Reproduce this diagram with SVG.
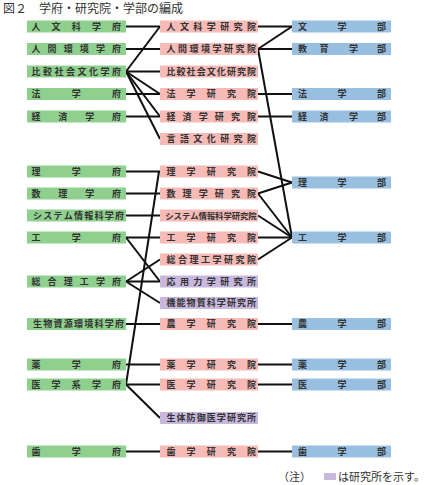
<svg xmlns="http://www.w3.org/2000/svg" width="428" height="485" viewBox="0 0 428 485">
<style>
.g{fill:#8FD08F}.p{fill:#F6BAB7}.b{fill:#98BFE0}.l{fill:#C8B8DE}
.t{font-family:"Noto Sans CJK JP","Noto Sans CJK SC",sans-serif;font-size:9px;font-weight:bold;fill:#333;text-anchor:middle}
.t11{font-size:8.4px}
.ttl{font-family:"Noto Sans CJK JP","Noto Sans CJK SC",sans-serif;font-size:12px;fill:#333}
.lg{font-family:"Noto Sans CJK JP","Noto Sans CJK SC",sans-serif;font-size:11px;fill:#333}
#connectors line{stroke:#111;stroke-width:2;fill:none}
</style>
<rect width="428" height="485" fill="#fff"/>
<text class="ttl" x="3" y="13">図２　学府・研究院・学部の編成</text>

<g id="connectors">
<line x1="126" y1="26.5" x2="160" y2="26.5"/>
<line x1="126" y1="49" x2="160" y2="49"/>
<line x1="126" y1="71.5" x2="160" y2="71.5"/>
<line x1="126" y1="94" x2="160" y2="94"/>
<line x1="126" y1="116.5" x2="160" y2="116.5"/>
<line x1="126" y1="71.5" x2="160" y2="26.5"/>
<line x1="126" y1="71.5" x2="160" y2="94"/>
<line x1="126" y1="71.5" x2="160" y2="116.5"/>
<line x1="126" y1="71.5" x2="160" y2="139"/>
<line x1="126" y1="171.5" x2="160" y2="171.5"/>
<line x1="126" y1="193.5" x2="160" y2="193.5"/>
<line x1="126" y1="215.5" x2="160" y2="215.5"/>
<line x1="126" y1="237.5" x2="160" y2="237.5"/>
<line x1="126" y1="237.5" x2="160" y2="281.5"/>
<line x1="126" y1="281.5" x2="160" y2="281.5"/>
<line x1="126" y1="281.5" x2="160" y2="259.5"/>
<line x1="126" y1="281.5" x2="160" y2="303"/>
<line x1="126" y1="324" x2="160" y2="324"/>
<line x1="126" y1="364.5" x2="160" y2="364.5"/>
<line x1="126" y1="384.5" x2="160" y2="384.5"/>
<line x1="126" y1="384.5" x2="160" y2="418"/>
<line x1="126" y1="384.5" x2="159" y2="171.5"/>
<line x1="126" y1="451.5" x2="160" y2="451.5"/>
<line x1="258" y1="26.5" x2="292" y2="26.5"/>
<line x1="258" y1="49" x2="292" y2="49"/>
<line x1="258" y1="49" x2="292" y2="26.5"/>
<line x1="258" y1="49" x2="292" y2="237.5"/>
<line x1="258" y1="94" x2="292" y2="94"/>
<line x1="258" y1="116.5" x2="292" y2="116.5"/>
<line x1="258" y1="171.5" x2="292" y2="182.5"/>
<line x1="258" y1="193.5" x2="292" y2="182.5"/>
<line x1="258" y1="193.5" x2="292" y2="237.5"/>
<line x1="258" y1="215.5" x2="292" y2="237.5"/>
<line x1="258" y1="237.5" x2="292" y2="237.5"/>
<line x1="258" y1="259.5" x2="292" y2="237.5"/>
<line x1="258" y1="324" x2="292" y2="324"/>
<line x1="258" y1="364.5" x2="292" y2="364.5"/>
<line x1="258" y1="384.5" x2="292" y2="384.5"/>
<line x1="258" y1="451.5" x2="292" y2="451.5"/>
</g>

<!-- 学府 -->
<g id="g1"><rect class="g" x="27" y="20.5" width="99" height="12"/><text class="t" x="36 56.1 76.25 96.4 116.5" y="29.8">人文科学府</text></g>
<g id="g2"><rect class="g" x="27" y="43" width="99" height="12"/><text class="t" x="36 52.1 68.2 84.3 100.4 116.5" y="52.3">人間環境学府</text></g>
<g id="g3"><rect class="g" x="27" y="65.5" width="99" height="12"/><text class="t" x="36 47.5 59 70.5 82 93.5 105 116.5" y="74.8">比較社会文化学府</text></g>
<g id="g4"><rect class="g" x="27" y="88" width="99" height="12"/><text class="t" x="36 76.25 116.5" y="97.3">法学府</text></g>
<g id="g5"><rect class="g" x="27" y="110.5" width="99" height="12"/><text class="t" x="36 62.8 89.7 116.5" y="119.8">経済学府</text></g>
<g id="g6"><rect class="g" x="27" y="165.5" width="99" height="12"/><text class="t" x="36 76.25 116.5" y="174.8">理学府</text></g>
<g id="g7"><rect class="g" x="27" y="187.5" width="99" height="12"/><text class="t" x="36 62.8 89.7 116.5" y="196.8">数理学府</text></g>
<g id="g8"><rect class="g" x="27" y="209.5" width="99" height="12"/><text class="t" x="37.5 47.75 58 68.25 78.5 88.75 99 109.25 119.5" y="218.8">システム情報科学府</text></g>
<g id="g9"><rect class="g" x="27" y="231.5" width="99" height="12"/><text class="t" x="36 76.25 116.5" y="240.8">工学府</text></g>
<g id="g10"><rect class="g" x="27" y="275.5" width="99" height="12"/><text class="t" x="36 52.1 68.2 84.3 100.4 116.5" y="284.8">総合理工学府</text></g>
<g id="g11"><rect class="g" x="27" y="318" width="99" height="12"/><text class="t" x="37.5 47.75 58 68.25 78.5 88.75 99 109.25 119.5" y="327.3">生物資源環境科学府</text></g>
<g id="g12"><rect class="g" x="27" y="358.5" width="99" height="12"/><text class="t" x="36 76.25 116.5" y="367.8">薬学府</text></g>
<g id="g13"><rect class="g" x="27" y="378.5" width="99" height="12"/><text class="t" x="36 56.1 76.25 96.4 116.5" y="387.8">医学系学府</text></g>
<g id="g14"><rect class="g" x="27" y="445.5" width="99" height="12"/><text class="t" x="36 76.25 116.5" y="454.8">歯学府</text></g>

<!-- 研究院・研究所 -->
<g id="p1"><rect class="p" x="160" y="20.5" width="98" height="12"/><text class="t" x="171 184.4 197.8 211.25 224.7 238.1 251.5" y="29.8">人文科学研究院</text></g>
<g id="p2"><rect class="p" x="160" y="43" width="98" height="12"/><text class="t" x="171 182.5 194 205.5 217 228.5 240 251.5" y="52.3">人間環境学研究院</text></g>
<g id="p3"><rect class="p" x="160" y="65.5" width="98" height="12"/><text class="t" x="171 181.1 191.1 201.2 211.25 221.3 231.4 241.4 251.5" y="74.8">比較社会文化研究院</text></g>
<g id="p4"><rect class="p" x="160" y="88" width="98" height="12"/><text class="t" x="171 191.1 211.25 231.4 251.5" y="97.3">法学研究院</text></g>
<g id="p5"><rect class="p" x="160" y="110.5" width="98" height="12"/><text class="t" x="171 187.1 203.2 219.3 235.4 251.5" y="119.8">経済学研究院</text></g>
<g id="p6"><rect class="p" x="160" y="133" width="98" height="12"/><text class="t" x="171 184.4 197.8 211.25 224.7 238.1 251.5" y="142.3">言語文化研究院</text></g>
<g id="p7"><rect class="p" x="160" y="165.5" width="98" height="12"/><text class="t" x="171 191.1 211.25 231.4 251.5" y="174.8">理学研究院</text></g>
<g id="p8"><rect class="p" x="160" y="187.5" width="98" height="12"/><text class="t" x="171 187.1 203.2 219.3 235.4 251.5" y="196.8">数理学研究院</text></g>
<g id="p9"><rect class="p" x="160" y="209.5" width="98" height="12"/><text class="t t11" x="169.5 177.8 186.1 194.4 202.7 211 219.3 227.6 235.9 244.2 252.5" y="218.6">システム情報科学研究院</text></g>
<g id="p10"><rect class="p" x="160" y="231.5" width="98" height="12"/><text class="t" x="171 191.1 211.25 231.4 251.5" y="240.8">工学研究院</text></g>
<g id="p11"><rect class="p" x="160" y="253.5" width="98" height="12"/><text class="t" x="171 182.5 194 205.5 217 228.5 240 251.5" y="262.8">総合理工学研究院</text></g>
<g id="p12"><rect class="l" x="160" y="275.5" width="98" height="12"/><text class="t" x="171 184.4 197.8 211.25 224.7 238.1 251.5" y="284.8">応用力学研究所</text></g>
<g id="p13"><rect class="l" x="160" y="297" width="98" height="12"/><text class="t" x="171 181.1 191.1 201.2 211.25 221.3 231.4 241.4 251.5" y="306.3">機能物質科学研究所</text></g>
<g id="p14"><rect class="p" x="160" y="318" width="98" height="12"/><text class="t" x="171 191.1 211.25 231.4 251.5" y="327.3">農学研究院</text></g>
<g id="p15"><rect class="p" x="160" y="358.5" width="98" height="12"/><text class="t" x="171 191.1 211.25 231.4 251.5" y="367.8">薬学研究院</text></g>
<g id="p16"><rect class="p" x="160" y="378.5" width="98" height="12"/><text class="t" x="171 191.1 211.25 231.4 251.5" y="387.8">医学研究院</text></g>
<g id="p17"><rect class="l" x="160" y="412" width="98" height="12"/><text class="t" x="171 181.1 191.1 201.2 211.25 221.3 231.4 241.4 251.5" y="421.3">生体防御医学研究所</text></g>
<g id="p18"><rect class="p" x="160" y="445.5" width="98" height="12"/><text class="t" x="171 191.1 211.25 231.4 251.5" y="454.8">歯学研究院</text></g>

<!-- 学部 -->
<g id="b1"><rect class="b" x="292" y="20.5" width="99" height="12"/><text class="t" x="302.5 342 381.5" y="29.8">文学部</text></g>
<g id="b2"><rect class="b" x="292" y="43" width="99" height="12"/><text class="t" x="302.5 324 353.5 381.5" y="52.3">教育学部</text></g>
<g id="b3"><rect class="b" x="292" y="88" width="99" height="12"/><text class="t" x="302.5 342 381.5" y="97.3">法学部</text></g>
<g id="b4"><rect class="b" x="292" y="110.5" width="99" height="12"/><text class="t" x="302.5 324 353.5 381.5" y="119.8">経済学部</text></g>
<g id="b5"><rect class="b" x="292" y="176.5" width="99" height="12"/><text class="t" x="302.5 342 381.5" y="185.8">理学部</text></g>
<g id="b6"><rect class="b" x="292" y="231.5" width="99" height="12"/><text class="t" x="302.5 342 381.5" y="240.8">工学部</text></g>
<g id="b7"><rect class="b" x="292" y="318" width="99" height="12"/><text class="t" x="302.5 342 381.5" y="327.3">農学部</text></g>
<g id="b8"><rect class="b" x="292" y="358.5" width="99" height="12"/><text class="t" x="302.5 342 381.5" y="367.8">薬学部</text></g>
<g id="b9"><rect class="b" x="292" y="378.5" width="99" height="12"/><text class="t" x="302.5 342 381.5" y="387.8">医学部</text></g>
<g id="b10"><rect class="b" x="292" y="445.5" width="99" height="12"/><text class="t" x="302.5 342 381.5" y="454.8">歯学部</text></g>

<!-- 凡例 -->
<g id="legend">
<text class="lg" x="278" y="481">（注）</text>
<rect class="l" x="324" y="473" width="12" height="7"/>
<text class="lg" x="338" y="481">は研究所を示す。</text>
</g>
</svg>
